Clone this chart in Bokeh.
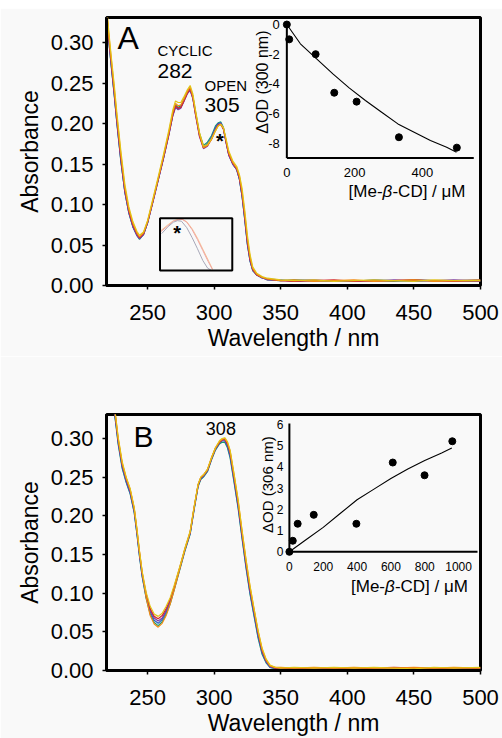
import math
from bokeh.plotting import figure
from bokeh.layouts import column
from bokeh.models import Range1d, FixedTicker, PrintfTickFormatter
from bokeh.core.properties import value
from bokeh.embed import file_html
from bokeh.resources import INLINE

# ---------------- Panel A: absorption spectra ----------------
WL_A = [219, 221, 223, 225, 227, 230, 233, 236, 239, 242,
        244, 247, 250, 254, 258, 262, 266, 269, 271, 273,
        275, 277, 280, 282, 284, 286, 289, 292, 295, 298,
        301, 303, 305, 307, 309, 311, 314, 317, 319, 321,
        323, 325, 327, 329, 332, 336, 340, 350, 360, 375,
        390, 405, 420, 435, 450, 465, 480, 500]
A_GREEN = [0.341, 0.300, 0.267, 0.235, 0.200, 0.153, 0.115, 0.089, 0.072, 0.062,
           0.057, 0.063, 0.077, 0.104, 0.131, 0.158, 0.188, 0.212, 0.223, 0.220,
           0.222, 0.229, 0.240, 0.244, 0.234, 0.215, 0.188, 0.173, 0.177, 0.185,
           0.197, 0.201, 0.202, 0.195, 0.178, 0.162, 0.150, 0.143, 0.131, 0.110,
           0.081, 0.050, 0.030, 0.018, 0.013, 0.010, 0.007, 0.006, 0.007, 0.006,
           0.005, 0.006, 0.006, 0.005, 0.007, 0.006, 0.006, 0.005]
A_BLUE = [0.342, 0.301, 0.268, 0.236, 0.201, 0.154, 0.115, 0.090, 0.073, 0.062,
          0.058, 0.063, 0.077, 0.103, 0.130, 0.157, 0.186, 0.210, 0.220, 0.218,
          0.220, 0.227, 0.238, 0.241, 0.232, 0.213, 0.186, 0.171, 0.175, 0.183,
          0.195, 0.200, 0.201, 0.194, 0.177, 0.161, 0.150, 0.143, 0.131, 0.110,
          0.082, 0.051, 0.030, 0.019, 0.013, 0.009, 0.008, 0.007, 0.005, 0.006,
          0.006, 0.005, 0.007, 0.006, 0.005, 0.006, 0.006, 0.007]
A_PURPLE = [0.343, 0.302, 0.269, 0.237, 0.202, 0.155, 0.116, 0.090, 0.073, 0.062,
            0.058, 0.063, 0.077, 0.103, 0.130, 0.157, 0.186, 0.210, 0.220, 0.217,
            0.219, 0.226, 0.237, 0.241, 0.231, 0.211, 0.184, 0.169, 0.172, 0.181,
            0.193, 0.199, 0.200, 0.193, 0.176, 0.161, 0.150, 0.143, 0.132, 0.111,
            0.083, 0.052, 0.031, 0.019, 0.013, 0.010, 0.007, 0.006, 0.006, 0.007,
            0.005, 0.006, 0.005, 0.007, 0.006, 0.006, 0.007, 0.005]
A_RED = [0.345, 0.305, 0.272, 0.240, 0.205, 0.158, 0.118, 0.092, 0.075, 0.064,
         0.059, 0.064, 0.078, 0.104, 0.131, 0.158, 0.187, 0.211, 0.222, 0.219,
         0.220, 0.227, 0.238, 0.243, 0.232, 0.212, 0.185, 0.170, 0.173, 0.181,
         0.192, 0.198, 0.199, 0.193, 0.177, 0.162, 0.151, 0.144, 0.133, 0.113,
         0.085, 0.054, 0.032, 0.020, 0.013, 0.010, 0.008, 0.006, 0.005, 0.006,
         0.007, 0.005, 0.006, 0.006, 0.007, 0.006, 0.005, 0.006]
A_ORANGE = [0.348, 0.309, 0.276, 0.244, 0.209, 0.162, 0.121, 0.094, 0.077, 0.065,
            0.060, 0.065, 0.079, 0.105, 0.132, 0.160, 0.189, 0.214, 0.225, 0.222,
            0.223, 0.229, 0.240, 0.245, 0.234, 0.214, 0.187, 0.170, 0.173, 0.180,
            0.191, 0.197, 0.199, 0.194, 0.179, 0.164, 0.152, 0.145, 0.135, 0.116,
            0.089, 0.058, 0.035, 0.021, 0.014, 0.010, 0.008, 0.006, 0.007, 0.005,
            0.006, 0.007, 0.005, 0.006, 0.007, 0.005, 0.006, 0.007]
A_YELLOW = [0.350, 0.312, 0.279, 0.248, 0.213, 0.166, 0.125, 0.097, 0.079, 0.067,
            0.062, 0.066, 0.080, 0.107, 0.134, 0.162, 0.192, 0.217, 0.228, 0.226,
            0.226, 0.232, 0.242, 0.247, 0.237, 0.217, 0.189, 0.172, 0.174, 0.181,
            0.191, 0.197, 0.199, 0.195, 0.181, 0.166, 0.154, 0.147, 0.137, 0.120,
            0.093, 0.062, 0.038, 0.023, 0.015, 0.011, 0.009, 0.007, 0.006, 0.007,
            0.005, 0.006, 0.007, 0.006, 0.005, 0.007, 0.006, 0.006]

# magnified view of the 305 nm band (small box in panel A)
ZOOM_WL_GREY = [297.6, 300, 302, 303.5, 305, 307, 309, 311, 313, 314.8, 316]
ZOOM_ABS_GREY = [0.187, 0.194, 0.1985, 0.200, 0.1995, 0.193, 0.183, 0.1718, 0.160, 0.1523, 0.1505]
ZOOM_WL_PINK = [297.3, 300, 302, 304, 305.3, 307, 309, 311, 313, 315, 316.6]
ZOOM_ABS_PINK = [0.189, 0.195, 0.1995, 0.201, 0.2013, 0.1985, 0.191, 0.181, 0.170, 0.159, 0.151]
ZOOM_ABS_ORANGE = [0.190, 0.196, 0.200, 0.2015, 0.2015, 0.199, 0.192, 0.1825, 0.1715, 0.1605, 0.1515]

# inset A: dOD at 300 nm vs [Me-beta-CD]
IA_CONC = [0, 7, 85, 140, 206, 331, 502]
IA_DOD = [0, -1.0, -2.0, -4.6, -5.2, -7.6, -8.3]
IA_FIT_CONC = [0, 40, 88, 136, 184, 232, 280, 328, 376, 424, 472, 501]
IA_FIT_DOD = [0, -1.30, -2.31, -3.33, -4.27, -5.12, -5.91, -6.70, -7.26, -7.82, -8.27, -8.61]
IA_XTICKS = [0, 200, 400]
IA_YTICKS = [0, -2, -4, -6, -8]

# ---------------- Panel B: absorption spectra ----------------
WL_B = [219, 222, 224, 226, 228, 231, 234, 237, 240, 242,
        244, 246, 249, 252, 255, 258, 261, 264, 267, 270,
        274, 278, 282, 285, 288, 290, 292, 295, 298, 301,
        304, 306, 308, 310, 312, 315, 318, 321, 324, 327,
        330, 333, 336, 339, 342, 346, 350, 360, 375, 390,
        405, 420, 435, 450, 465, 480, 500]
B_GREEN = [0.416, 0.376, 0.346, 0.321, 0.292, 0.261, 0.243, 0.228, 0.204, 0.177,
           0.147, 0.121, 0.093, 0.073, 0.062, 0.058, 0.063, 0.073, 0.086, 0.104,
           0.129, 0.154, 0.176, 0.208, 0.238, 0.247, 0.250, 0.257, 0.272, 0.285,
           0.293, 0.295, 0.295, 0.288, 0.275, 0.243, 0.210, 0.170, 0.132, 0.098,
           0.070, 0.042, 0.021, 0.010, 0.004, 0.002, 0.003, 0.002, 0.003, 0.003,
           0.002, 0.003, 0.003, 0.002, 0.003, 0.003, 0.002]
B_BLUE = [0.418, 0.378, 0.348, 0.323, 0.294, 0.263, 0.244, 0.229, 0.205, 0.178,
          0.148, 0.122, 0.095, 0.076, 0.065, 0.061, 0.066, 0.076, 0.088, 0.106,
          0.130, 0.155, 0.177, 0.209, 0.239, 0.248, 0.251, 0.258, 0.273, 0.286,
          0.294, 0.297, 0.297, 0.290, 0.277, 0.245, 0.212, 0.172, 0.134, 0.100,
          0.072, 0.044, 0.023, 0.011, 0.004, 0.003, 0.002, 0.003, 0.003, 0.002,
          0.003, 0.003, 0.002, 0.003, 0.003, 0.002, 0.003]
B_PURPLE = [0.420, 0.380, 0.350, 0.325, 0.296, 0.265, 0.246, 0.231, 0.207, 0.180,
            0.150, 0.124, 0.097, 0.078, 0.068, 0.064, 0.068, 0.078, 0.090, 0.107,
            0.131, 0.156, 0.178, 0.210, 0.240, 0.249, 0.252, 0.259, 0.274, 0.287,
            0.295, 0.298, 0.298, 0.292, 0.280, 0.248, 0.215, 0.175, 0.137, 0.103,
            0.075, 0.047, 0.025, 0.012, 0.005, 0.003, 0.003, 0.003, 0.002, 0.003,
            0.003, 0.002, 0.003, 0.003, 0.002, 0.003, 0.003]
B_RED = [0.422, 0.382, 0.352, 0.327, 0.298, 0.267, 0.248, 0.233, 0.209, 0.182,
         0.152, 0.126, 0.099, 0.080, 0.070, 0.067, 0.071, 0.080, 0.092, 0.108,
         0.132, 0.157, 0.179, 0.211, 0.240, 0.249, 0.252, 0.259, 0.274, 0.287,
         0.295, 0.298, 0.299, 0.293, 0.282, 0.250, 0.217, 0.177, 0.139, 0.105,
         0.077, 0.049, 0.026, 0.013, 0.006, 0.003, 0.003, 0.002, 0.003, 0.003,
         0.002, 0.003, 0.004, 0.003, 0.002, 0.003, 0.003]
B_ORANGE = [0.424, 0.384, 0.354, 0.329, 0.300, 0.268, 0.249, 0.234, 0.210, 0.183,
            0.153, 0.127, 0.094, 0.071, 0.060, 0.056, 0.061, 0.071, 0.086, 0.104,
            0.130, 0.156, 0.179, 0.211, 0.241, 0.250, 0.253, 0.260, 0.275, 0.288,
            0.296, 0.299, 0.300, 0.295, 0.284, 0.253, 0.220, 0.180, 0.142, 0.108,
            0.079, 0.051, 0.028, 0.014, 0.006, 0.004, 0.004, 0.003, 0.004, 0.003,
            0.004, 0.003, 0.003, 0.004, 0.003, 0.004, 0.003]
B_YELLOW = [0.425, 0.385, 0.355, 0.330, 0.301, 0.270, 0.250, 0.235, 0.211, 0.184,
            0.154, 0.128, 0.101, 0.083, 0.073, 0.070, 0.074, 0.083, 0.094, 0.110,
            0.133, 0.158, 0.180, 0.212, 0.241, 0.250, 0.253, 0.260, 0.275, 0.288,
            0.297, 0.300, 0.301, 0.296, 0.285, 0.254, 0.221, 0.181, 0.143, 0.109,
            0.080, 0.052, 0.029, 0.015, 0.007, 0.004, 0.003, 0.004, 0.003, 0.004,
            0.003, 0.004, 0.003, 0.002, 0.004, 0.003, 0.004]

# inset B: dOD at 306 nm vs [Me-beta-CD]
IB_CONC = [0, 20, 49, 144, 396, 611, 799, 963]
IB_DOD = [0, 0.52, 1.32, 1.74, 1.32, 4.2, 3.6, 5.2]
IB_FIT_CONC = [0, 100, 200, 300, 400, 500, 600, 700, 800, 900, 960]
IB_FIT_DOD = [0, 0.58, 1.15, 1.80, 2.45, 2.95, 3.45, 3.90, 4.30, 4.65, 4.88]
IB_XTICKS = [0, 200, 400, 600, 800, 1000]
IB_YTICKS = [0, 1, 2, 3, 4, 5, 6]

X_TICKS = [250, 300, 350, 400, 450, 500]
Y_TICKS = [0.0, 0.05, 0.10, 0.15, 0.20, 0.25, 0.30]

# ---------------- styling / layout ----------------
FONT = "Liberation Sans"
BG = "#f9f9f9"
SPEC_COLORS = ["#1c9c6c", "#2c5ec6", "#7e3fa8", "#d42a2a", "#f28a12", "#e2c416"]
X_LIM = (219.2, 500)
Y_LIM = (0, 0.331)
FIG_W = 502
BASE_SHIFT = 0.4   # alphabetic baseline correction, in em


def frac_range(lo, hi, f0, f1):
    span = (hi - lo) / (f1 - f0)
    start = lo - f0 * span
    return Range1d(start, start + span)


def make_fig(height, bl, br, bt, bb):
    p = figure(width=FIG_W, height=height, x_range=Range1d(*X_LIM), y_range=Range1d(*Y_LIM),
               output_backend="svg", toolbar_location=None,
               min_border_left=bl, min_border_right=br, min_border_top=bt, min_border_bottom=bb,
               x_axis_label="Wavelength / nm", y_axis_label="Absorbance")
    p.background_fill_color = BG
    p.border_fill_color = BG
    p.outline_line_color = "black"
    p.outline_line_width = 3
    p.xgrid.visible = False
    p.ygrid.visible = False
    for ax in (p.xaxis[0], p.yaxis[0]):
        ax.axis_line_width = 3
        ax.axis_line_color = "black"
        ax.major_tick_line_width = 1.5
        ax.major_tick_line_color = "black"
        ax.major_tick_out = 4
        ax.major_tick_in = 0
        ax.minor_tick_out = 0
        ax.minor_tick_in = 0
        ax.major_label_text_font = FONT
        ax.major_label_text_font_size = "22px"
        ax.major_label_text_color = "black"
        ax.axis_label_text_font = FONT
        ax.axis_label_text_font_size = "23px"
        ax.axis_label_text_font_style = "normal"
        ax.axis_label_text_color = "black"
    p.xaxis.ticker = FixedTicker(ticks=X_TICKS)
    p.yaxis.ticker = FixedTicker(ticks=Y_TICKS)
    p.yaxis.formatter = PrintfTickFormatter(format="%.2f")
    p.xaxis.major_label_standoff = 15
    p.xaxis.axis_label_standoff = 2
    p.yaxis.major_label_standoff = 9
    p.yaxis.axis_label_standoff = 5
    return p


def txt(p, x, y, s, fs, align="left", baseline="alphabetic", style="normal",
        xr="default", yr="default", angle=0, xo=0, yo=0, color="black"):
    if baseline == "alphabetic":
        yo = yo - BASE_SHIFT * fs
    p.text(x=[x], y=[y], text=[s], text_font=value(FONT), text_font_size=f"{fs}px",
           text_font_style=style, text_align=align, text_baseline=baseline,
           text_color=color, angle=angle, x_offset=xo, y_offset=yo,
           x_range_name=xr, y_range_name=yr)


def beta_label(p, x, y, yo, fs, xr, yr):
    w1 = 2.0 * fs
    wb = 0.58 * fs
    w3 = 4.30 * fs
    start = -(w1 + wb + w3) / 2
    txt(p, x, y, "[Me-", fs, xr=xr, yr=yr, xo=start, yo=yo)
    txt(p, x, y, "β", fs, style="italic", xr=xr, yr=yr, xo=start + w1, yo=yo)
    txt(p, x, y, "-CD] / μM", fs, xr=xr, yr=yr, xo=start + w1 + wb, yo=yo)


def draw_inset(p, name, xlim, ylim, fx, fy, conc, dod, fit_x, fit_y, xticks, yticks,
               tick_fs, xtick_yo, ytick_xo, ylab, ylab_y, ylab_xo, ylab_fs, xlab_x, xlab_yo, xlab_fs):
    xr, yr = name + "_x", name + "_y"
    p.extra_x_ranges[xr] = frac_range(xlim[0], xlim[1], fx[0], fx[1])
    p.extra_y_ranges[yr] = frac_range(ylim[0], ylim[1], fy[0], fy[1])
    p.line([xlim[0], xlim[0]], [ylim[0], ylim[1]], line_color="black", line_width=2,
           x_range_name=xr, y_range_name=yr)
    p.line([xlim[0], xlim[1]], [ylim[0], ylim[0]], line_color="black", line_width=2,
           x_range_name=xr, y_range_name=yr)
    p.line(fit_x, fit_y, line_color="black", line_width=1.1, x_range_name=xr, y_range_name=yr)
    p.scatter(conc, dod, size=7, color="black", x_range_name=xr, y_range_name=yr)
    p.text(x=[xlim[0]] * len(yticks), y=yticks, text=[str(t) for t in yticks],
           text_font=value(FONT), text_font_size=f"{tick_fs}px", text_align="right",
           text_baseline="middle", x_offset=ytick_xo, text_color="black",
           x_range_name=xr, y_range_name=yr)
    p.text(x=xticks, y=[ylim[0]] * len(xticks), text=[str(t) for t in xticks],
           text_font=value(FONT), text_font_size=f"{tick_fs}px", text_align="center",
           text_baseline="alphabetic", y_offset=xtick_yo - BASE_SHIFT * tick_fs,
           text_color="black", x_range_name=xr, y_range_name=yr)
    txt(p, xlim[0], ylab_y, ylab, ylab_fs, align="center", baseline="middle",
        xr=xr, yr=yr, angle=math.pi / 2, xo=ylab_xo)
    beta_label(p, xlab_x, ylim[0], xlab_yo, xlab_fs, xr, yr)


# ---------------- Panel A ----------------
pa = make_fig(348, 101, 17, 9, 71)
for vals, col in zip([A_GREEN, A_BLUE, A_PURPLE, A_RED, A_ORANGE, A_YELLOW], SPEC_COLORS):
    pa.line(WL_A, vals, line_color=col, line_width=1.2)

txt(pa, 227.5, 0.2902, "A", 32)
txt(pa, 257.5, 0.2828, "CYCLIC", 15)
txt(pa, 257.5, 0.2544, "282", 21)
txt(pa, 292.8, 0.2396, "OPEN", 15)
txt(pa, 292.8, 0.2121, "305", 21)
txt(pa, 304.3, 0.1803, "*", 20, align="center", baseline="middle", style="bold", yo=1)

# magnified box
ZX, ZY = (297, 324), (0.150, 0.2025)
pa.extra_x_ranges["zoom_x"] = frac_range(ZX[0], ZX[1], 0.1431, 0.3363)
pa.extra_y_ranges["zoom_y"] = frac_range(ZY[0], ZY[1], 0.056, 0.2511)
pa.line(ZOOM_WL_PINK, ZOOM_ABS_ORANGE, line_color="#f6c79a", line_width=1,
        x_range_name="zoom_x", y_range_name="zoom_y")
pa.line(ZOOM_WL_PINK, ZOOM_ABS_PINK, line_color="#f0a4a0", line_width=1,
        x_range_name="zoom_x", y_range_name="zoom_y")
pa.line(ZOOM_WL_GREY, ZOOM_ABS_GREY, line_color="#a8a8b8", line_width=1,
        x_range_name="zoom_x", y_range_name="zoom_y")
pa.quad(left=[ZX[0]], right=[ZX[1]], bottom=[ZY[0]], top=[ZY[1]], fill_color=None,
        line_color="black", line_width=2, x_range_name="zoom_x", y_range_name="zoom_y")
txt(pa, 303.4, 0.190, "*", 20, align="center", baseline="middle", style="bold",
    xr="zoom_x", yr="zoom_y", yo=2)

draw_inset(pa, "ia", (0, 552), (-9, 0.13), (0.4822, 0.982), (0.4757, 0.981),
           IA_CONC, IA_DOD, IA_FIT_CONC, IA_FIT_DOD, IA_XTICKS, IA_YTICKS,
           13, 20, -7, "ΔOD (300 nm)", -3.88, -24, 16, 355, 40, 17)

# ---------------- Panel B ----------------
pb = make_fig(382, 106, 22, 58, 55)
for vals, col in zip([B_GREEN, B_BLUE, B_PURPLE, B_RED, B_ORANGE, B_YELLOW], SPEC_COLORS):
    pb.line(WL_B, vals, line_color=col, line_width=1.2)

txt(pb, 239.5, 0.2874, "B", 30)
txt(pb, 293.8, 0.303, "308", 18)

draw_inset(pb, "ib", (0, 1112), (0, 6.03), (0.489, 0.992), (0.4636, 0.9644),
           IB_CONC, IB_DOD, IB_FIT_CONC, IB_FIT_DOD, IB_XTICKS, IB_YTICKS,
           12, 19, -6, "ΔOD (306 nm)", 3.16, -22, 15, 710, 41, 17)

layout = column(pa, pb, spacing=0, margin=(8, 0, 0, 0))
open("out.html", "w").write(file_html(layout, INLINE))
